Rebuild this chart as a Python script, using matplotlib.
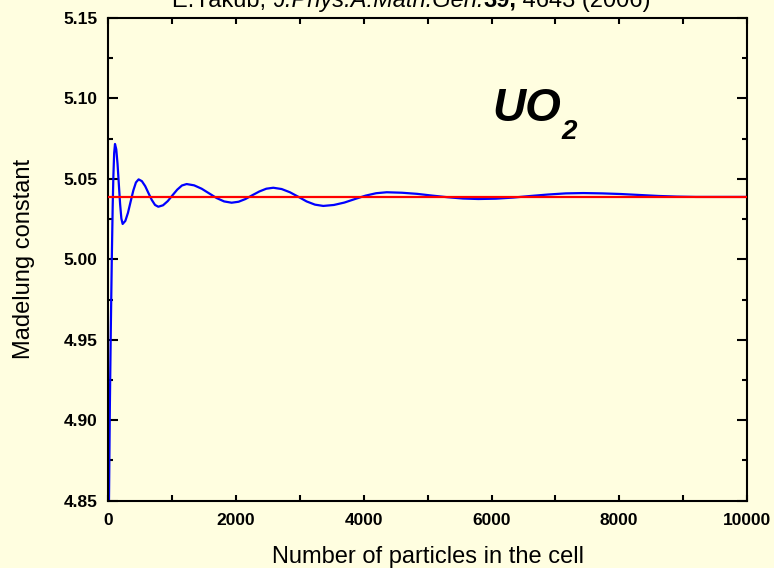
import numpy as np
import matplotlib
matplotlib.use("Agg")
import matplotlib.pyplot as plt
from matplotlib.ticker import MultipleLocator, FormatStrFormatter
from matplotlib.offsetbox import TextArea, HPacker, AnchoredOffsetbox

# Madelung constant of UO2 vs. number of particles in the cell
n_particles = [0, 11, 25, 40, 55, 69, 80, 92, 105, 125, 145, 165, 185, 205, 225,
               267, 308, 350, 392, 433, 475, 526, 578, 629, 680, 732, 783,
               857, 931, 1005, 1079, 1153, 1227, 1344, 1462, 1579, 1696, 1814,
               1931, 2040, 2148, 2257, 2366, 2474, 2583, 2714, 2844, 2975, 3105,
               3236, 3366, 3532, 3697, 3863, 4028, 4194, 4359, 4598, 4837, 5076,
               5315, 5554, 5793, 6067, 6341, 6615, 6889, 7163, 7437, 7731, 8025,
               8319, 8612, 8906, 9200, 10000]
madelung = [4.80, 4.85, 4.91, 4.958, 5.000, 5.033, 5.052, 5.066, 5.0717,
            5.0684, 5.0593, 5.0468, 5.0344, 5.0253, 5.0220,
            5.0239, 5.0289, 5.0359, 5.0428, 5.0478, 5.0497,
            5.0486, 5.0455, 5.0412, 5.0370, 5.0338, 5.0327,
            5.0336, 5.0362, 5.0398, 5.0433, 5.0459, 5.0468,
            5.0460, 5.0439, 5.0410, 5.0381, 5.0360, 5.0352,
            5.0358, 5.0375, 5.0399, 5.0422, 5.0439, 5.0445,
            5.0437, 5.0417, 5.0389, 5.0360, 5.0340, 5.0332,
            5.0338, 5.0353, 5.0375, 5.0396, 5.0411, 5.0417,
            5.0414, 5.0407, 5.0396, 5.0386, 5.0378, 5.0375,
            5.0377, 5.0384, 5.0394, 5.0403, 5.0410, 5.0412,
            5.0410, 5.0406, 5.0400, 5.0394, 5.0390, 5.0388, 5.0388]
madelung_exact = 5.0388

bg = "#fffee0"
plt.rcParams["font.family"] = ["Liberation Sans", "DejaVu Sans"]

fig = plt.figure(figsize=(7.74, 5.68), dpi=100, facecolor=bg)
ax = fig.add_axes([0.1399, 0.1185, 0.8252, 0.8498], facecolor=bg)

ax.plot(n_particles, madelung, color="#0000ff", lw=1.6, zorder=2)
ax.axhline(madelung_exact, color="#ff0000", lw=1.6, zorder=3)

ax.set_xlim(0, 10000)
ax.set_ylim(4.85, 5.15)
ax.xaxis.set_major_locator(MultipleLocator(2000))
ax.xaxis.set_minor_locator(MultipleLocator(1000))
ax.yaxis.set_major_locator(MultipleLocator(0.05))
ax.yaxis.set_minor_locator(MultipleLocator(0.025))
ax.yaxis.set_major_formatter(FormatStrFormatter("%.2f"))

for s in ax.spines.values():
    s.set_linewidth(1.5)
ax.tick_params(which="both", direction="in", top=True, right=True, width=1.5,
               labelsize=12.5)
ax.tick_params(axis="y", which="major", length=7.5, pad=8)
ax.tick_params(axis="y", which="minor", length=3.8)
ax.tick_params(axis="x", which="both", length=4.5, pad=9)
for lbl in ax.get_xticklabels() + ax.get_yticklabels():
    lbl.set_fontweight("bold")

ax.set_xlabel("Number of particles in the cell", fontsize=17, labelpad=13)
ax.set_ylabel("Madelung constant", fontsize=17, labelpad=20)

# compound label
ax.text(0.602, 0.7866, "UO", transform=ax.transAxes, fontsize=33,
        fontweight="bold", fontstyle="italic")
ax.text(0.710, 0.7487, "2", transform=ax.transAxes, fontsize=20,
        fontweight="bold", fontstyle="italic")

# reference line at the top, mixed styles
parts = [("E.Yakub, ", "normal", "normal"),
         ("J.Phys.A:Math.Gen.", "italic", "normal"),
         ("39,", "normal", "bold"),
         (" 4643 (2006)", "normal", "normal")]
areas = [TextArea(t, textprops=dict(fontsize=17, fontstyle=st, fontweight=w))
         for t, st, w in parts]
box = HPacker(children=areas, pad=0, sep=0, align="baseline")
anch = AnchoredOffsetbox(loc="lower left", child=box, pad=0, borderpad=0,
                         frameon=False, bbox_to_anchor=(172 / 774, 1 - 12 / 568),
                         bbox_transform=fig.transFigure)
fig.add_artist(anch)

fig.savefig("out.png", dpi=100, facecolor=bg)
